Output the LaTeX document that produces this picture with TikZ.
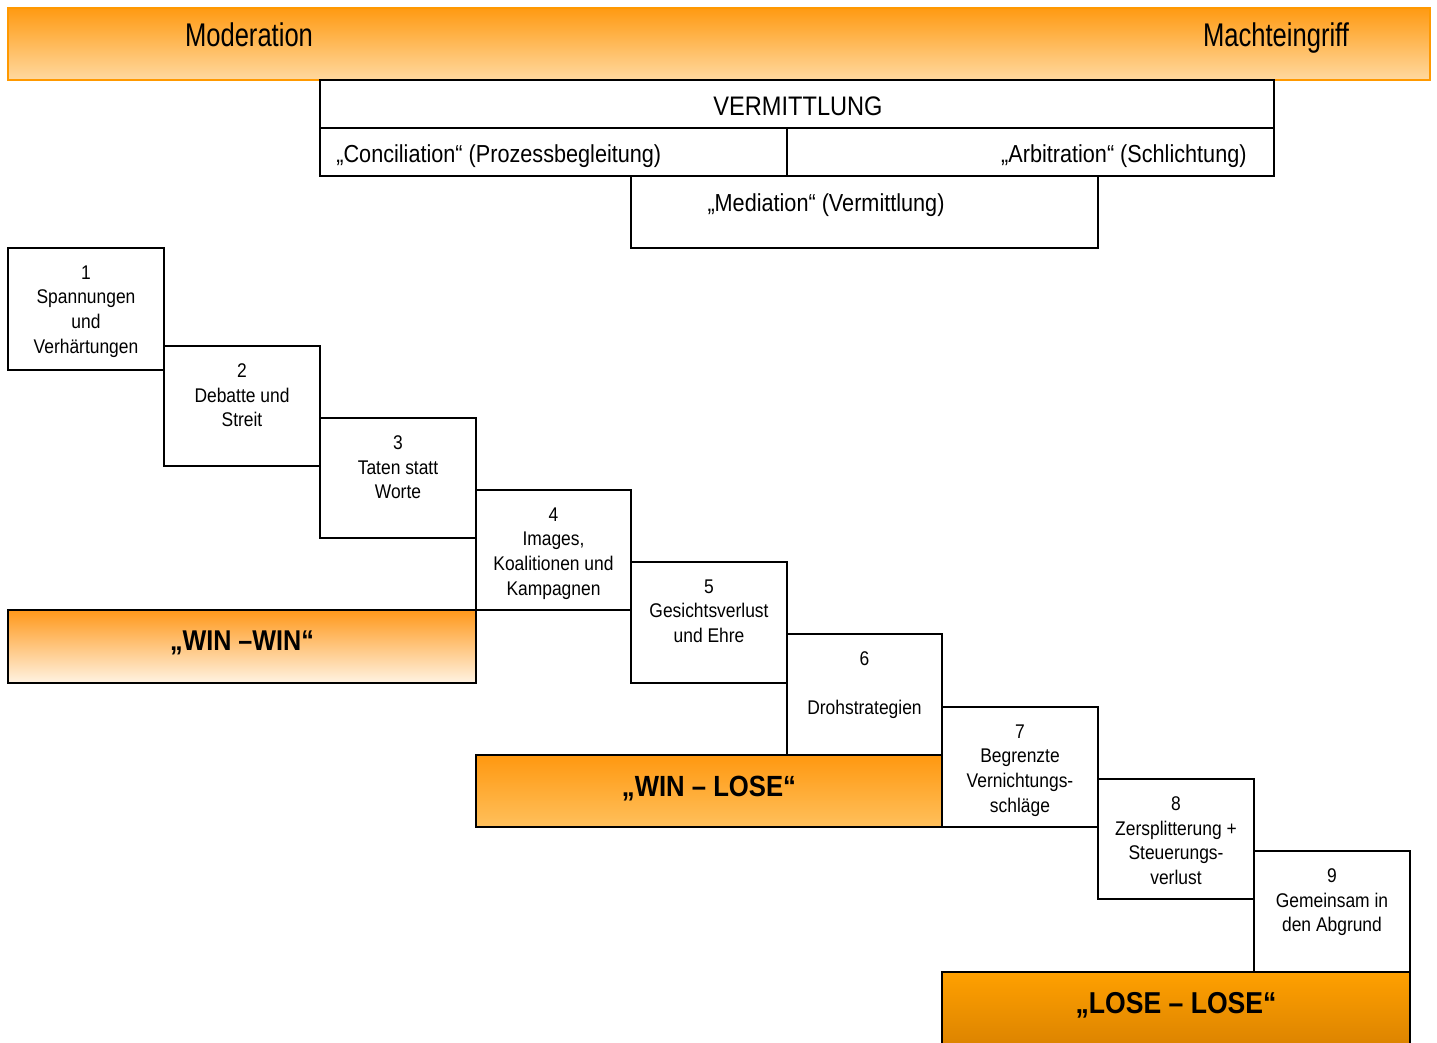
\documentclass[tikz,border=0pt]{standalone}
\usepackage{fontspec}
\setmainfont[FakeStretch=0.88]{Liberation Sans}
\newfontfamily\bannerfont[FakeStretch=0.78]{Liberation Sans}
\usetikzlibrary{fit}
\definecolor{bantop}{RGB}{255,154,18}
\definecolor{banbot}{RGB}{255,217,160}
\definecolor{banline}{RGB}{255,153,0}
\definecolor{wwtop}{RGB}{255,152,26}
\definecolor{wwbot}{RGB}{255,243,227}
\definecolor{wltop}{RGB}{255,152,16}
\definecolor{wlbot}{RGB}{255,192,92}
\definecolor{lltop}{RGB}{255,160,0}
\definecolor{llbot}{RGB}{218,130,0}
\begin{document}
\begin{tikzpicture}[x=0.5pt,y=-0.5pt,
  frame/.style={draw=black, line width=1pt, fill=white, inner sep=0pt},
  stepbox/.style={draw=black, line width=1pt, fill=white, inner sep=0pt},
  steptext/.style={anchor=north, align=center, inner sep=0pt, font=\fontsize{9.9}{12.4}\selectfont},
  resultbox/.style={draw=black, line width=1pt, inner sep=0pt},
  result/.style={anchor=base, inner sep=0pt, font=\bfseries\fontsize{14.6}{17}\selectfont},
  bantext/.style={anchor=base, inner sep=0pt, font=\bannerfont\fontsize{16.4}{19}\selectfont},
  toptext/.style={anchor=base, inner sep=0pt, font=\fontsize{12.3}{14}\selectfont}]
\useasboundingbox (0,0) rectangle (1437,1043);
\fill[white] (0,0) rectangle (1437,1043);

% banner
\node[fit={(8,8)(1430,80)}, inner sep=0pt, draw=banline, line width=1pt, top color=bantop, bottom color=banbot] (banner) {};
\node[bantext] (moder) at (249,47) {Moderation};
\node[bantext] (macht) at (1276,47) {Machteingriff};

% Vermittlung
\node[fit={(320,80)(1274,128)}, frame] (verm) {};
\node[anchor=base, inner sep=0pt, font=\fontsize{13.4}{15}\selectfont] (vermt) at (798,116) {VERMITTLUNG};
\node[fit={(320,128)(787,176)}, frame] (conc) {};
\node[fit={(787,128)(1274,176)}, frame] (arbi) {};
\node[toptext, anchor=base west] (conct) at (336,163) {„Conciliation“ (Prozessbegleitung)};
\node[toptext, anchor=base east] (arbit) at (1247,163) {„Arbitration“ (Schlichtung)};
\node[fit={(631,176)(1098,248)}, frame] (medi) {};
\node[toptext] (medit) at (826,212) {„Mediation“ (Vermittlung)};

% steps
\node[fit={(8,248)(164,370)}, stepbox] (s1) {};
\node[fit={(164,346)(320,466)}, stepbox] (s2) {};
\node[fit={(320,418)(476,538)}, stepbox] (s3) {};
\node[fit={(476,490)(631,610)}, stepbox] (s4) {};
\node[fit={(631,562)(787,683)}, stepbox] (s5) {};
\node[fit={(787,634)(942,755)}, stepbox] (s6) {};
\node[fit={(942,707)(1098,827)}, stepbox] (s7) {};
\node[fit={(1098,779)(1254,899)}, stepbox] (s8) {};
\node[fit={(1254,851)(1410,972)}, stepbox] (s9) {};

\node[steptext] (t1) at ([yshift=-9pt]s1.north) {1\\Spannungen\\und\\Verhärtungen};
\node[steptext] (t2) at ([yshift=-9pt]s2.north) {2\\Debatte und\\Streit};
\node[steptext] (t3) at ([yshift=-9pt]s3.north) {3\\Taten statt\\Worte};
\node[steptext] (t4) at ([yshift=-9pt]s4.north) {4\\Images,\\Koalitionen und\\Kampagnen};
\node[steptext] (t5) at ([yshift=-9pt]s5.north) {5\\Gesichtsverlust\\und Ehre};
\node[steptext] (t6) at ([yshift=-9pt]s6.north) {6\\[12pt]Drohstrategien};
\node[steptext] (t7) at ([yshift=-9pt]s7.north) {7\\Begrenzte\\Vernichtungs-\\schläge};
\node[steptext] (t8) at ([yshift=-9pt]s8.north) {8\\Zersplitterung +\\Steuerungs-\\verlust};
\node[steptext] (t9) at ([yshift=-9pt]s9.north) {9\\Gemeinsam in\\den Abgrund};

% results
\node[fit={(8,610)(476,683)}, resultbox, top color=wwtop, bottom color=wwbot] (ww) {};
\node[result, font=\bfseries\fontsize{14.3}{17}\selectfont] (wwt) at (242,650) {„WIN –WIN“};
\node[fit={(476,755)(942,827)}, resultbox, top color=wltop, bottom color=wlbot] (wl) {};
\node[result] (wlt) at (709,796) {„WIN – LOSE“};
\node[fit={(942,972)(1410,1050)}, resultbox, top color=lltop, bottom color=llbot] (ll) {};
\node[result, font=\bfseries\fontsize{15.1}{18}\selectfont] (llt) at (1176,1013) {„LOSE – LOSE“};
\end{tikzpicture}
\end{document}
